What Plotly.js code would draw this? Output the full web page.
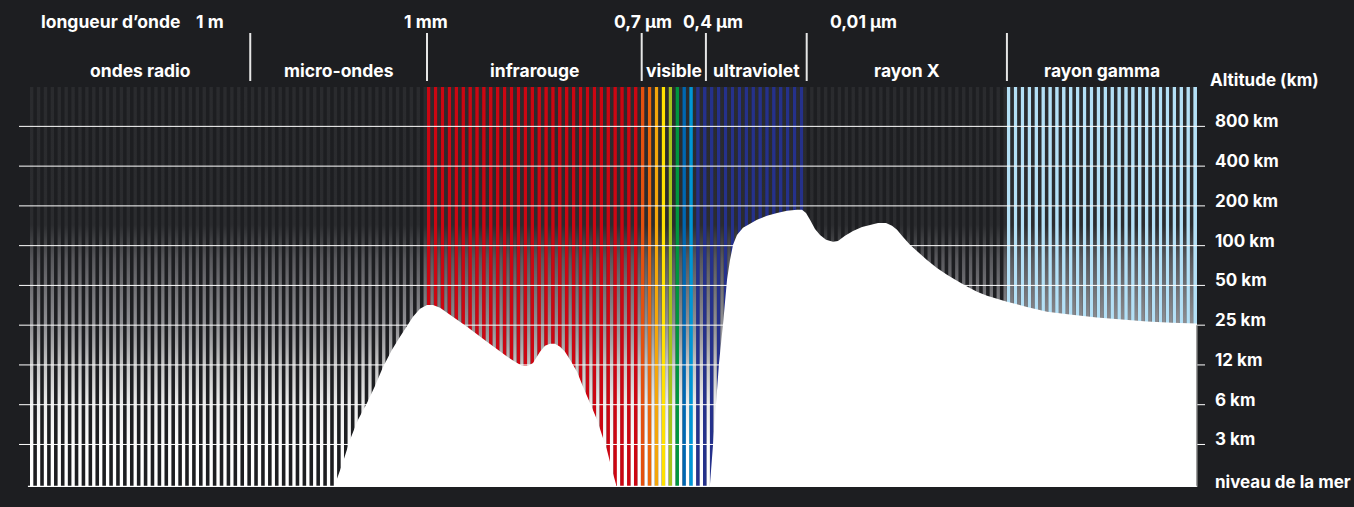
<!DOCTYPE html>
<html>
<head>
<meta charset="utf-8">
<script src="https://cdn.plot.ly/plotly-3.0.1.min.js"></script>
<style>
html,body{margin:0;padding:0;background:#1d1e21;}
#chart{width:1354px;height:507px;}
</style>
</head>
<body>
<div id="chart"></div>
<script>
// ---------- data ----------
// x axis unit = one stripe of the schematic spectrum (169 stripes)
const stripeCount = 169;
const regionNames = ['ondes radio', 'micro-ondes', 'infrarouge', 'visible', 'ultraviolet', 'rayon X', 'rayon gamma'];
const regionEdges = [0, 31.9, 57.5, 88.6, 97.9, 112.5, 141.5, 169];

const wavelengthTitle = 'longueur d’onde';
const wavelengthLabels = ['1 m', '1 mm', '0,7 μm', '0,4 μm', '0,01 μm'];
const wavelengthPos = [26.0, 57.4, 88.8, 98.9, 120.7];

// y axis unit = altitude level (schematic log-like scale)
const altitudeLabels = ['niveau de la mer', '3 km', '6 km', '12 km', '25 km', '50 km', '100 km', '200 km', '400 km', '800 km'];
const altitudeLevels = [0, 1, 2, 3, 4, 5, 6, 7, 8, 9];
const altitudeTitle = 'Altitude (km)';

// coloured stripe bands
const bandColors = ['#cc0612', '#e4500f', '#ec650a', '#f4a60b', '#ffe100', '#a5c31d', '#00953f', '#0067b1', '#0096d6', '#25318b', '#b4e0f6'];
const bandFirstStripe = [57, 88, 89, 90, 91, 92, 93, 94, 95, 96, 141];
const bandStripeCount = [31, 1, 1, 1, 1, 1, 1, 1, 1, 16, 28];

// altitude reached by radiation (white area), two windows
const absorbX1 = [44.18, 45.34, 46.35, 47.51, 48.81, 49.97, 51.13, 52.43, 53.59, 54.61, 55.47, 56.49, 57.50, 58.37, 59.39, 60.83, 63.30, 66.19, 69.09, 70.25, 71.26, 72.13, 72.86, 73.87, 74.59, 75.32, 76.04, 76.77, 77.49, 78.22, 79.23, 80.10, 81.11, 82.13, 82.85, 83.57, 84.30, 84.88];
const absorbL1 = [0, 0.56, 1.12, 1.62, 2.04, 2.47, 2.95, 3.38, 3.71, 3.98, 4.21, 4.41, 4.51, 4.51, 4.44, 4.26, 3.96, 3.58, 3.21, 3.08, 2.98, 2.98, 3.05, 3.33, 3.48, 3.53, 3.53, 3.46, 3.33, 3.13, 2.83, 2.45, 2.04, 1.62, 1.24, 0.86, 0.36, 0];
const absorbX2 = [98.49, 98.93, 99.36, 99.80, 100.38, 100.96, 101.39, 101.83, 102.40, 103.27, 104.29, 105.30, 106.75, 108.20, 109.65, 111.10, 111.82, 112.40, 112.98, 113.70, 114.43, 115.30, 116.31, 117.03, 118.05, 119.21, 120.51, 121.67, 122.83, 123.99, 124.86, 125.58, 126.45, 127.46, 128.62, 129.92, 131.37, 132.82, 134.27, 135.72, 137.17, 138.62, 141.51, 144.41, 147.31, 150.93, 154.55, 158.17, 161.79, 165.41, 169.0];
const absorbL2 = [0, 0.99, 2.02, 3.05, 4.03, 5.14, 5.64, 6.02, 6.27, 6.45, 6.55, 6.65, 6.75, 6.82, 6.88, 6.90, 6.90, 6.82, 6.65, 6.42, 6.27, 6.15, 6.10, 6.12, 6.25, 6.37, 6.47, 6.52, 6.57, 6.57, 6.50, 6.40, 6.22, 6.02, 5.84, 5.64, 5.44, 5.27, 5.12, 4.97, 4.84, 4.74, 4.59, 4.46, 4.34, 4.26, 4.19, 4.14, 4.09, 4.06, 4.04];

// ---------- layout constants ----------
const W = 1354, H = 507;
const mL = 19, mR = 149, mT = 87, mB = 20;
const yBottom = -0.07, yTop = 9.99;
const xMin = -1.593, xMax = 170.19;
const BG = '#1d1e21';
const FONT = 'Inter, Roboto, "Open Sans", sans-serif';
const gradColW = 0.48;

// ---------- traces ----------
const gx = [], gy = [];
for (let k = 0; k < stripeCount; k++) {
  gx.push(k, k + gradColW, k + gradColW, k, k, null);
  gy.push(yBottom, yBottom, yTop, yTop, yBottom, null);
}
const gradientTrace = {
  type: 'scatter', x: gx, y: gy, mode: 'none', fill: 'toself',
  fillgradient: {
    type: 'vertical', start: yBottom, stop: yTop,
    colorscale: [
      [0, '#ffffff'], [0.09, '#ffffff'], [0.14, '#f7f7f7'], [0.21, '#ebebeb'],
      [0.255, '#d8d8d8'], [0.31, '#c2c2c2'], [0.355, '#a8a8aa'], [0.41, '#8e8e92'],
      [0.47, '#7a7a7e'], [0.505, '#6e6e72'], [0.57, '#58585c'], [0.62, '#3e3f42'],
      [0.655, '#2b2c2f'], [1, '#2a2b2e']
    ]
  },
  hoverinfo: 'skip', showlegend: false
};

const bx = [], bc = [];
bandColors.forEach((c, i) => {
  for (let j = 0; j < bandStripeCount[i]; j++) {
    bx.push(bandFirstStripe[i] + j + gradColW + 0.275);
    bc.push(c);
  }
});
const barTrace = {
  type: 'bar', x: bx, y: bx.map(() => yTop - yBottom), base: yBottom, width: 0.55,
  marker: { color: bc, line: { width: 0 } }, hoverinfo: 'skip', showlegend: false
};

const gridX = [], gridY = [];
altitudeLevels.slice(1).forEach(l => { gridX.push(xMin, xMax, null); gridY.push(l, l, null); });
const gridTrace = {
  type: 'scatter', mode: 'lines', x: gridX, y: gridY,
  line: { color: '#ffffff', width: 1 }, hoverinfo: 'skip', showlegend: false
};

function closed(xs, ls) {
  return {
    x: [...xs, xs[xs.length - 1], xs[0], xs[0]],
    y: [...ls, yBottom, yBottom, ls[0]]
  };
}
const a1 = closed(absorbX1, absorbL1), a2 = closed(absorbX2, absorbL2);
const areaTrace = {
  type: 'scatter', mode: 'none', fill: 'toself', fillcolor: '#ffffff',
  x: [...a1.x, null, ...a2.x], y: [...a1.y, null, ...a2.y],
  hoverinfo: 'skip', showlegend: false
};

// ---------- annotations & shapes ----------
const txt = (size) => ({ family: FONT, size: size, color: '#ffffff', weight: 700 });
const pyPaper = (px) => (H - mB - px) / (H - mT - mB);

const annotations = [];
regionNames.forEach((n, i) => {
  annotations.push({
    text: n, x: (regionEdges[i] + regionEdges[i + 1]) / 2, xref: 'x',
    y: pyPaper(71), yref: 'paper', xanchor: 'center', yanchor: 'middle',
    showarrow: false, font: txt(17.5)
  });
});
annotations.push({
  text: wavelengthTitle, x: 1.3, xref: 'x', y: pyPaper(22), yref: 'paper',
  xanchor: 'left', yanchor: 'middle', showarrow: false, font: txt(17.5)
});
wavelengthLabels.forEach((t, i) => {
  annotations.push({
    text: t, x: wavelengthPos[i], xref: 'x', y: pyPaper(22), yref: 'paper',
    xanchor: 'center', yanchor: 'middle', showarrow: false, font: txt(17.5)
  });
});
altitudeLabels.forEach((t, i) => {
  annotations.push({
    text: t, x: 1, xref: 'paper', xshift: 8, y: i === 0 ? yBottom : altitudeLevels[i], yref: 'y',
    yshift: 5, xanchor: 'left', yanchor: 'middle', showarrow: false, font: txt(17)
  });
});
annotations.push({
  text: altitudeTitle, x: 1, xref: 'paper', xshift: 3, y: pyPaper(80), yref: 'paper',
  xanchor: 'left', yanchor: 'middle', showarrow: false, font: txt(17)
});

const shapes = [];
regionEdges.slice(1, -1).forEach(e => {
  shapes.push({
    type: 'line', xref: 'x', yref: 'paper', x0: e, x1: e, y0: pyPaper(81), y1: pyPaper(33),
    line: { color: '#e6e6e6', width: 2 }
  });
});
shapes.push({
  type: 'line', xref: 'x', yref: 'y', x0: stripeCount, x1: stripeCount, y0: yBottom, y1: altitudeLevels[4],
  line: { color: '#9c9c9c', width: 1.5 }
});
shapes.push({
  type: 'line', xref: 'x', yref: 'y', x0: -0.3, x1: stripeCount, y0: yBottom + 0.015, y1: yBottom + 0.015,
  line: { color: '#ffffff', width: 1.5 }
});

const layout = {
  width: W, height: H,
  margin: { l: mL, r: mR, t: mT, b: mB, pad: 0 },
  paper_bgcolor: BG, plot_bgcolor: BG,
  showlegend: false,
  barmode: 'overlay',
  xaxis: { range: [xMin, xMax], visible: false, fixedrange: true },
  yaxis: { range: [yBottom, yTop], visible: false, fixedrange: true },
  annotations: annotations,
  shapes: shapes,
  font: { family: FONT, color: '#ffffff' }
};

Plotly.newPlot('chart', [barTrace, gradientTrace, gridTrace, areaTrace], layout, { displayModeBar: false, staticPlot: true });
</script>
</body>
</html>
